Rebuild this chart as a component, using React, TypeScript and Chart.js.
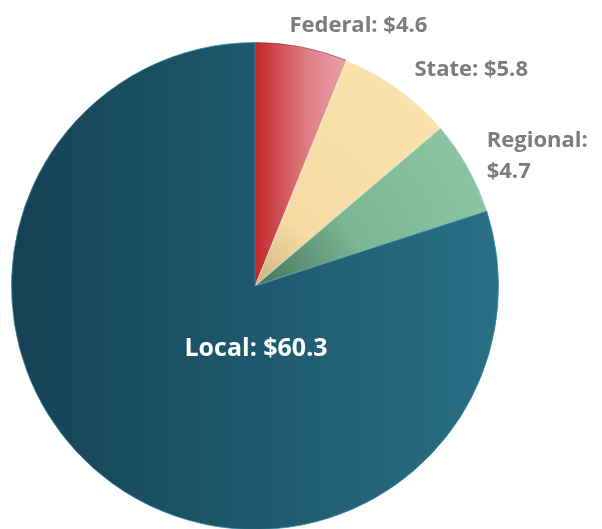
import React, { useEffect, useRef } from "react";
import { Chart, registerables } from "chart.js";

Chart.register(...registerables);

const categories = ["Federal", "State", "Regional", "Local"];
const values = [4.6, 5.8, 4.7, 60.3];
const labelLines = [["Federal: $4.6"], ["State: $5.8"], ["Regional:", "$4.7"], ["Local: $60.3"]];

const FONT = "bold 22px 'Open Sans', 'DejaVu Sans', sans-serif";
const FONT_IN = "bold 25px 'Open Sans', 'DejaVu Sans', sans-serif";

const labelPlugin = {
  id: "sliceLabels",
  afterDatasetsDraw(chart: any) {
    const { ctx } = chart;
    const meta = chart.getDatasetMeta(0);
    ctx.save();
    meta.data.forEach((arc: any, i: number) => {
      const { x, y, startAngle, endAngle, outerRadius } = arc.getProps(
        ["x", "y", "startAngle", "endAngle", "outerRadius"],
        true
      );
      const mid = (startAngle + endAngle) / 2;
      const lines = labelLines[i];
      if (i === 3) {
        ctx.font = FONT_IN;
        ctx.fillStyle = "#ffffff";
        ctx.textAlign = "center";
        ctx.textBaseline = "alphabetic";
        ctx.fillText(lines[0], x + 1, y + 70);
        return;
      }
      ctx.font = FONT;
      const ox = x + Math.cos(mid) * outerRadius;
      const oy = y + Math.sin(mid) * outerRadius;
      const offsets = [
        [-12, -14.5],
        [17, -13],
        [19, -20],
      ];
      ctx.fillStyle = "#7b7c7e";
      ctx.textAlign = "left";
      ctx.textBaseline = "alphabetic";
      lines.forEach((t, k) => {
        ctx.fillText(t, ox + offsets[i][0], oy + offsets[i][1] + k * 31);
      });
    });
    ctx.restore();
  },
};

function fillFor(context: any) {
  const chart = context.chart;
  const { ctx, chartArea } = chart;
  if (!chartArea) return "#1d5a6e";
  const cx = (chartArea.left + chartArea.right) / 2;
  const cy = (chartArea.top + chartArea.bottom) / 2;
  const r = Math.min(chartArea.width, chartArea.height) / 2;
  const i = context.dataIndex;
  if (i === 3) {
    const g = ctx.createLinearGradient(chartArea.left, 0, chartArea.right, 0);
    g.addColorStop(0, "#154254");
    g.addColorStop(0.5, "#1d596d");
    g.addColorStop(1, "#2a7087");
    return g;
  }
  if (i === 0) {
    const g = ctx.createLinearGradient(cx, 0, cx + r * 0.38, 0);
    g.addColorStop(0, "#c4262a");
    g.addColorStop(0.55, "#de7c83");
    g.addColorStop(1, "#eba3a9");
    return g;
  }
  if (i === 1) {
    const g = ctx.createRadialGradient(cx, cy, 0, cx, cy, r);
    g.addColorStop(0, "#cdb47e");
    g.addColorStop(0.3, "#f6dca3");
    g.addColorStop(1, "#f9e2ab");
    return g;
  }
  const g = ctx.createRadialGradient(cx, cy, 0, cx, cy, r);
  g.addColorStop(0, "#46735c");
  g.addColorStop(0.45, "#7cb592");
  g.addColorStop(1, "#8bc59f");
  return g;
}

export default function App() {
  const ref = useRef<HTMLCanvasElement>(null);
  useEffect(() => {
    if (!ref.current) return;
    const chart = new Chart(ref.current, {
      type: "pie",
      data: {
        labels: categories,
        datasets: [
          {
            data: values,
            backgroundColor: fillFor,
            borderColor: ["rgba(120,40,40,0.5)", "rgba(255,255,255,0.5)", "rgba(170,220,230,0.8)", "rgba(60,140,170,0.8)"],
            borderWidth: 1,
          },
        ],
      },
      options: {
        responsive: false,
        animation: false,
        layout: { padding: { left: 11, right: 103, top: 42, bottom: 10 } },
        plugins: {
          legend: { display: false },
          tooltip: { enabled: false },
        },
      },
      plugins: [labelPlugin],
    });
    return () => chart.destroy();
  }, []);
  return (
    <div
      style={{
        position: "absolute",
        left: 0,
        top: 0,
        width: 602,
        height: 529,
        overflow: "hidden",
        background: "#ffffff",
      }}
    >
      <canvas ref={ref} width={602} height={540} style={{ display: "block", width: 602, height: 540 }} />
    </div>
  );
}
